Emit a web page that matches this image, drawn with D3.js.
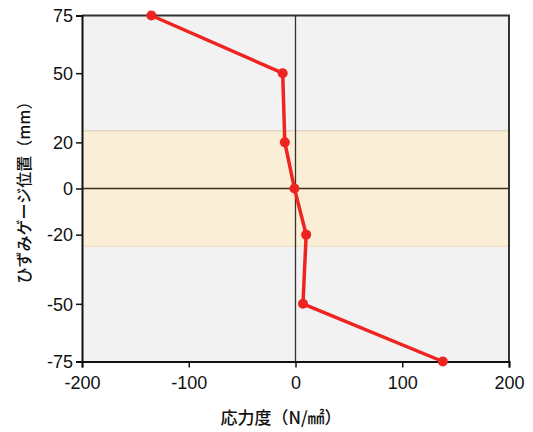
<!DOCTYPE html>
<html>
<head>
<meta charset="utf-8">
<script src="https://cdn.jsdelivr.net/npm/d3@7"></script>
<style>
  body { margin: 0; background: #fff; }
  text { font-family: "Liberation Sans", Arial, sans-serif; }
  .jp { font-family: "Noto Sans CJK JP", sans-serif; }
</style>
</head>
<body>
<script>
// gauge positions (mm) and measured stress (N/mm2)
const positions = [75, 50, 20, 0, -20, -50, -75];
const stresses = [-135, -12, -10, -1, 10, 7, 138];
const xTicks = [-200, -100, 0, 100, 200];
const yTicks = [75, 50, 20, 0, -20, -50, -75];
const band = [-25, 25];

const xDomain = [-200, 200],
      yDomain = [-75, 75];

let margin = null, width = null, height = null;
let svg = null;
let x, y = null;

setupCanvasSize();
appendSvg("body");
setupScales();
appendBackground();
appendAxes();
appendLine();
appendTitles();

function setupCanvasSize() {
  margin = {top: 15.5, left: 82, bottom: 70.5, right: 24};
  width = 533 - margin.left - margin.right;
  height = 432 - margin.top - margin.bottom;
}

function appendSvg(domElement) {
  svg = d3.select(domElement).append("svg")
    .attr("width", width + margin.left + margin.right)
    .attr("height", height + margin.top + margin.bottom)
    .append("g")
    .attr("transform", `translate(${margin.left}, ${margin.top})`);
}

function setupScales() {
  x = d3.scaleLinear().domain(xDomain).range([0, width]);
  y = d3.scaleLinear().domain(yDomain).range([height, 0]);
}

function appendBackground() {
  svg.append("rect")
    .attr("width", width).attr("height", height)
    .attr("fill", "#f2f2f2");

  svg.append("rect")
    .attr("x", 0).attr("width", width)
    .attr("y", y(band[1])).attr("height", y(band[0]) - y(band[1]))
    .attr("fill", "#faeed6");

  // faint band edges
  svg.selectAll("line.band")
    .data(band).enter().append("line")
    .attr("class", "band")
    .attr("x1", 0).attr("x2", width)
    .attr("y1", d => y(d)).attr("y2", d => y(d))
    .attr("stroke", d => d > 0 ? "#d6cbb8" : "#ecdcb8")
    .attr("stroke-width", 1);

  // zero lines
  svg.append("line")
    .attr("x1", 0).attr("x2", width)
    .attr("y1", y(0)).attr("y2", y(0))
    .attr("stroke", "#3a301c").attr("stroke-width", 1.7);
  svg.append("line")
    .attr("x1", x(0)).attr("x2", x(0))
    .attr("y1", 0).attr("y2", height)
    .attr("stroke", "#333").attr("stroke-width", 1.3);

  // top and right frame
  svg.append("path")
    .attr("d", `M0,0H${width}V${height}`)
    .attr("fill", "none")
    .attr("stroke", "#333").attr("stroke-width", 2);
}

function appendAxes() {
  const fmt = d => String(d);
  const xAxis = svg.append("g")
    .attr("transform", `translate(0, ${height})`)
    .call(d3.axisBottom(x).tickValues(xTicks).tickFormat(fmt).tickSizeOuter(6).tickSize(6).tickPadding(5));
  const yAxis = svg.append("g")
    .call(d3.axisLeft(y).tickValues(yTicks).tickFormat(fmt).tickSizeOuter(6).tickSize(6).tickPadding(3));

  [xAxis, yAxis].forEach(g => {
    g.select(".domain").attr("stroke", "#111").attr("stroke-width", 2);
    g.selectAll(".tick line").attr("stroke", "#111").attr("stroke-width", 1.5);
    g.selectAll(".tick text")
      .attr("fill", "#111")
      .style("font-family", '"Liberation Sans", Arial, sans-serif')
      .style("font-size", "18px");
  });
  xAxis.selectAll(".tick text").attr("dy", "0.9em");
  yAxis.selectAll(".tick text").attr("dy", "0.35em");
}

function appendLine() {
  const pts = positions.map((p, i) => ({pos: p, val: stresses[i]}));

  const line = d3.line()
    .x(d => x(d.val))
    .y(d => y(d.pos));

  svg.append("path")
    .datum(pts)
    .attr("d", line)
    .attr("fill", "none")
    .attr("stroke", "#ef2320")
    .attr("stroke-width", 3.5)
    .attr("stroke-linejoin", "round");

  svg.selectAll("circle.pt")
    .data(pts).enter().append("circle")
    .attr("class", "pt")
    .attr("cx", d => x(d.val))
    .attr("cy", d => y(d.pos))
    .attr("r", 5)
    .attr("fill", "#ef2320");
}

function appendTitles() {
  svg.append("text")
    .attr("class", "jp")
    .attr("x", 199)
    .attr("y", height + 62)
    .attr("text-anchor", "middle")
    .attr("font-size", "17px")
    .attr("font-weight", 500)
    .attr("fill", "#111")
    .text("応力度（N/㎟）");

  svg.append("text")
    .attr("class", "jp")
    .attr("transform", `translate(${-58}, ${y(0)}) rotate(-90)`)
    .attr("dy", "0.35em")
    .attr("text-anchor", "middle")
    .attr("font-size", "16px")
    .attr("font-weight", 500)
    .attr("fill", "#111")
    .text("ひずみゲージ位置（mm）");
}
</script>
</body>
</html>
